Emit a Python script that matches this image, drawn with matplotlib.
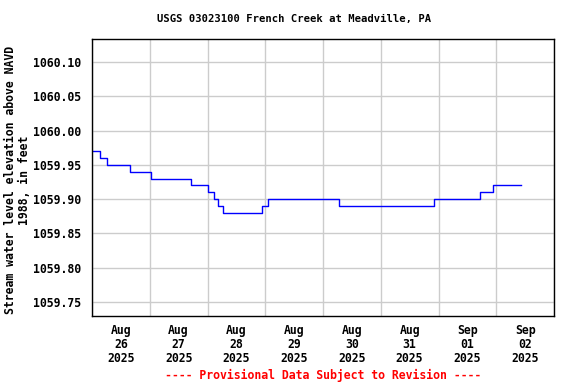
import pandas as pd
import matplotlib
matplotlib.use("Agg")
import matplotlib.pyplot as plt
import matplotlib.dates as mdates

# step change times (15-min gage data) and water levels
change_times = ["2025-08-26 00:00", "2025-08-26 03:30", "2025-08-26 06:15",
                "2025-08-26 15:45", "2025-08-27 00:30", "2025-08-27 17:15",
                "2025-08-28 00:00", "2025-08-28 02:45", "2025-08-28 04:30",
                "2025-08-28 06:15", "2025-08-28 22:45", "2025-08-29 01:15",
                "2025-08-30 06:30", "2025-08-31 22:00", "2025-09-01 17:15",
                "2025-09-01 22:30", "2025-09-02 10:15"]
levels = [1059.97, 1059.96, 1059.95, 1059.94, 1059.93, 1059.92,
          1059.91, 1059.90, 1059.89, 1059.88, 1059.89, 1059.90,
          1059.89, 1059.90, 1059.91, 1059.92, 1059.92]
ytick_vals = [1059.75, 1059.80, 1059.85, 1059.90, 1059.95, 1060.00, 1060.05, 1060.10]

t = pd.to_datetime(change_times)

font = "DejaVu Sans Mono"
fig = plt.figure(figsize=(5.76, 3.84), dpi=100)
ax = fig.add_axes([92/576, 1 - 316/384, 462/576, 277/384])

ax.step(t, levels, where="post", color="#0000ff", lw=1)

ax.set_xlim(pd.Timestamp("2025-08-26"), pd.Timestamp("2025-09-03"))
ax.set_ylim(1059.7296, 1060.1335)

# gridlines at midnight, labels at noon
ax.xaxis.set_major_locator(mdates.DayLocator())
ax.xaxis.set_major_formatter(plt.NullFormatter())
ax.xaxis.set_minor_locator(mdates.HourLocator(byhour=[12]))
ax.xaxis.set_minor_formatter(mdates.DateFormatter("%b\n%d\n%Y"))
ax.tick_params(axis="x", which="both", length=0, pad=6)
ax.tick_params(axis="y", length=0, pad=8)

ax.set_yticks(ytick_vals)
ax.set_yticklabels([f"{v:.2f}" for v in ytick_vals])

for lab in ax.get_yticklabels() + ax.get_xticklabels(minor=True):
    lab.set_fontfamily(font)
    lab.set_fontweight("bold")
    lab.set_fontsize(8.3)
for lab in ax.get_xticklabels(minor=True):
    lab.set_linespacing(1.1)

ax.grid(True, which="major", color="#cccccc", lw=1)
ax.set_axisbelow(True)
for s in ax.spines.values():
    s.set_linewidth(1)
    s.set_color("black")

fig.text(0.51, 1 - 19/384, "USGS 03023100 French Creek at Meadville, PA",
         ha="center", va="center", fontfamily=font, fontweight="bold", fontsize=7.6)
fig.text(18/576, 1 - 180/384, "Stream water level elevation above NAVD\n1988, in feet",
         ha="center", va="center", rotation=90, fontfamily=font, fontweight="bold",
         fontsize=8.3, linespacing=1.1)
fig.text(323/576, 1 - 375/384, "---- Provisional Data Subject to Revision ----",
         ha="center", va="center", color="red", fontfamily=font, fontweight="bold",
         fontsize=8.3)

fig.savefig("out.png", dpi=100)
